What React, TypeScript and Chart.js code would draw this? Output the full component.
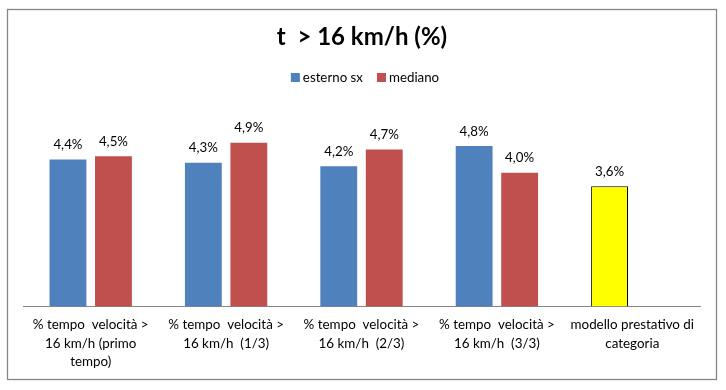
import React, { useEffect, useRef } from 'react';
import { Chart, registerables } from 'chart.js';

Chart.register(...registerables);

const TITLE = 't  > 16 km/h (%)';
const CATEGORIES: string[][] = [
  ['% tempo  velocità >', '16 km/h (primo', 'tempo)'],
  ['% tempo  velocità >', '16 km/h  (1/3)'],
  ['% tempo  velocità >', '16 km/h  (2/3)'],
  ['% tempo  velocità >', '16 km/h  (3/3)'],
  ['modello prestativo di', 'categoria'],
];
const SERIES_NAMES = ['esterno sx', 'mediano'];
const ESTERNO_SX = [4.4, 4.3, 4.2, 4.8];
const MEDIANO = [4.5, 4.9, 4.7, 4.0];
const MODELLO_CATEGORIA = 3.6;
const Y_MIN = 0;
const Y_MAX = 6;

const BLUE = '#4F81BD';
const RED = '#C0504D';
const YELLOW = '#FFFF00';
const FONT = 'Lato, "Open Sans", "Liberation Sans", sans-serif';

const fmt = (v: number) => v.toFixed(1).replace('.', ',') + '%';

const decorPlugin = {
  id: 'decor',
  beforeDraw(chart: any) {
    const ctx = chart.ctx;
    ctx.save();
    ctx.fillStyle = '#ffffff';
    ctx.fillRect(0, 0, chart.width, chart.height);
    ctx.strokeStyle = '#868686';
    ctx.lineWidth = 1.3;
    ctx.strokeRect(7.5, 9.5, 709, 370);
    ctx.restore();
  },
  afterDraw(chart: any) {
    const ctx = chart.ctx;
    ctx.save();
    // title
    ctx.fillStyle = '#000000';
    ctx.font = `bold 24px ${FONT}`;
    ctx.textAlign = 'center';
    ctx.textBaseline = 'alphabetic';
    ctx.fillText(TITLE, 362, 45);
    // legend
    ctx.font = `13.3px ${FONT}`;
    ctx.textAlign = 'left';
    const colors = [BLUE, RED];
    const box = 9;
    const gapText = 3;
    const gapItem = 14;
    const widths = SERIES_NAMES.map((n) => ctx.measureText(n).width);
    const total = widths.reduce((a, w) => a + box + gapText + w, 0) + gapItem * (SERIES_NAMES.length - 1);
    let x = 365 - total / 2;
    SERIES_NAMES.forEach((n, i) => {
      ctx.fillStyle = colors[i];
      ctx.fillRect(x, 73, box, box);
      ctx.fillStyle = '#000000';
      ctx.fillText(n, x + box + gapText, 82);
      x += box + gapText + widths[i] + gapItem;
    });
    // data labels
    ctx.font = `13.3px ${FONT}`;
    ctx.textAlign = 'center';
    chart.data.datasets.forEach((ds: any, di: number) => {
      const meta = chart.getDatasetMeta(di);
      meta.data.forEach((el: any, i: number) => {
        const v = ds.data[i];
        if (v === null || v === undefined) return;
        ctx.fillStyle = '#000000';
        ctx.fillText(fmt(v), el.x, el.y - 10.5);
      });
    });
    ctx.restore();
  },
};

export default function App() {
  const ref = useRef<HTMLCanvasElement | null>(null);
  useEffect(() => {
    if (!ref.current) return;
    const blueData = [...ESTERNO_SX, MODELLO_CATEGORIA];
    const redData = [...MEDIANO, null];
    const chart = new Chart(ref.current, {
      type: 'bar',
      data: {
        labels: CATEGORIES,
        datasets: [
          {
            label: SERIES_NAMES[0],
            data: blueData,
            backgroundColor: blueData.map((_, i) => (i === blueData.length - 1 ? YELLOW : BLUE)),
            borderColor: blueData.map((_, i) => (i === blueData.length - 1 ? '#000000' : BLUE)),
            borderWidth: blueData.map((_, i) => (i === blueData.length - 1 ? 1 : 0)),
            categoryPercentage: 0.672,
            barPercentage: 0.81,
          },
          {
            label: SERIES_NAMES[1],
            data: redData,
            backgroundColor: RED,
            borderWidth: 0,
            categoryPercentage: 0.672,
            barPercentage: 0.81,
          },
        ],
      },
      options: {
        responsive: false,
        animation: false,
        layout: { padding: { left: 23, right: 26, top: 106, bottom: 0 } },
        plugins: {
          legend: { display: false },
          title: { display: false },
          tooltip: { enabled: false },
        },
        scales: {
          y: { display: false, min: Y_MIN, max: Y_MAX },
          x: {
            grid: { display: false, drawTicks: false },
            border: { display: true, color: '#868686', width: 1 },
            ticks: {
              color: '#000000',
              font: { family: FONT, size: 13.4, lineHeight: 1.38 },
              padding: 9,
              maxRotation: 0,
              autoSkip: false,
            },
            afterFit: (scale: any) => {
              scale.height = 83.5;
            },
          },
        },
      },
      plugins: [decorPlugin],
    });
    return () => chart.destroy();
  }, []);
  return (
    <div style={{ position: 'absolute', left: 0, top: 0, width: 726, height: 390 }}>
      <canvas ref={ref} width={726} height={390} style={{ width: 726, height: 390, display: 'block' }} />
    </div>
  );
}
